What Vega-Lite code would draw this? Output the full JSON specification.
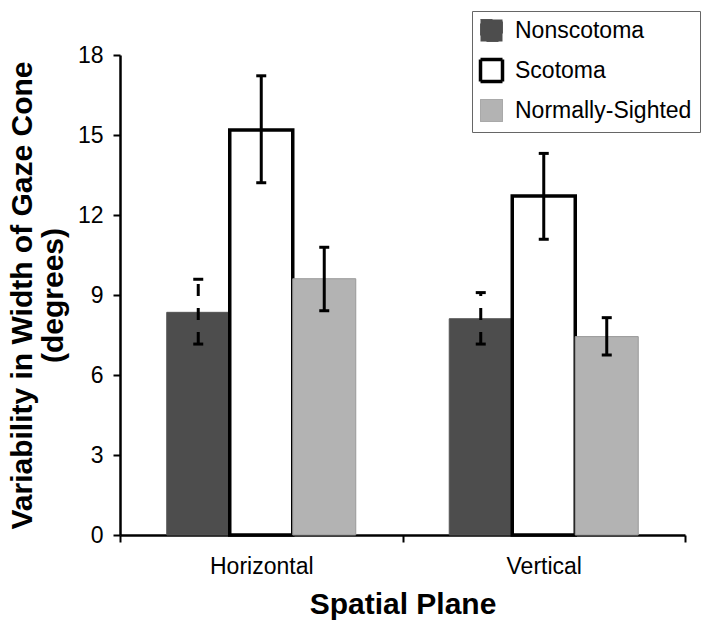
{
  "$schema": "https://vega.github.io/schema/vega-lite/v6.json",
  "width": 565,
  "height": 480,
  "autosize": {"type": "none"},
  "padding": {"left": 120, "top": 55, "right": 25, "bottom": 96},
  "background": "white",
  "config": {
    "font": "Liberation Sans",
    "view": {"stroke": null},
    "axis": {"grid": false}
  },
  "data": {
    "values": [
      {"plane": "Horizontal", "group": "Nonscotoma", "mean": 8.35, "lo": 7.16, "hi": 9.59},
      {"plane": "Horizontal", "group": "Scotoma", "mean": 15.19, "lo": 13.21, "hi": 17.22},
      {"plane": "Horizontal", "group": "Normally-Sighted", "mean": 9.61, "lo": 8.41, "hi": 10.79},
      {"plane": "Vertical", "group": "Nonscotoma", "mean": 8.11, "lo": 7.16, "hi": 9.09},
      {"plane": "Vertical", "group": "Scotoma", "mean": 12.71, "lo": 11.09, "hi": 14.31},
      {"plane": "Vertical", "group": "Normally-Sighted", "mean": 7.44, "lo": 6.75, "hi": 8.15}
    ]
  },
  "encoding": {
    "x": {
      "field": "plane",
      "type": "nominal",
      "scale": {"paddingInner": 0, "paddingOuter": 0},
      "axis": {
        "title": "Spatial Plane",
        "titleFontSize": 30,
        "titleFontWeight": "bold",
        "titleColor": "black",
        "titleY": 78,
        "titleBaseline": "alphabetic",
        "labelAngle": 0,
        "labelFontSize": 23,
        "labelColor": "black",
        "labelPadding": 13,
        "tickBand": "extent",
        "tickSize": 7,
        "tickWidth": 2,
        "tickColor": "black",
        "domainColor": "black",
        "domainWidth": 2.5
      }
    },
    "xOffset": {
      "field": "group",
      "type": "nominal",
      "sort": ["Nonscotoma", "Scotoma", "Normally-Sighted"],
      "scale": {"paddingInner": 0, "paddingOuter": 0.742}
    }
  },
  "layer": [
    {
      "mark": {"type": "bar"},
      "encoding": {
        "y": {
          "field": "mean",
          "type": "quantitative",
          "scale": {"domain": [0, 18], "nice": false},
          "axis": {
            "values": [0, 3, 6, 9, 12, 15, 18],
            "title": ["Variability in Width of Gaze Cone", "(degrees)"],
            "titleFontSize": 30,
            "titleFontWeight": "bold",
            "titleColor": "black",
            "titleX": -113,
            "titleY": 240,
            "titleBaseline": "top",
            "titleAlign": "center",
            "titleLineHeight": 31,
            "labelFontSize": 23,
            "labelColor": "black",
            "labelPadding": 10,
            "tickSize": 7,
            "tickWidth": 2,
            "tickColor": "black",
            "domainColor": "black",
            "domainWidth": 2.5
          }
        },
        "fill": {
          "field": "group",
          "type": "nominal",
          "scale": {
            "domain": ["Nonscotoma", "Scotoma", "Normally-Sighted"],
            "range": ["#4d4d4d", "#ffffff", "#b3b3b3"]
          },
          "legend": {
            "title": null,
            "orient": "none",
            "legendX": 352,
            "legendY": -44,
            "padding": 8,
            "strokeColor": "#666666",
            "fillColor": "white",
            "symbolType": "square",
            "symbolSize": 484,
            "symbolOpacity": 1,
            "labelFontSize": 23,
            "labelColor": "black",
            "labelOffset": 12,
            "rowPadding": 8,
            "labelLimit": 300,
            "encode": {
              "symbols": {
                "update": {
                  "stroke": {"signal": "datum.value === 'Scotoma' ? 'black' : datum.value === 'Nonscotoma' ? '#555555' : '#999999'"},
                  "strokeWidth": {"signal": "datum.value === 'Scotoma' ? 3.5 : 1"}
                }
              }
            }
          }
        },
        "stroke": {
          "field": "group",
          "type": "nominal",
          "scale": {
            "domain": ["Nonscotoma", "Scotoma", "Normally-Sighted"],
            "range": ["#555555", "#000000", "#999999"]
          },
          "legend": null
        },
        "strokeWidth": {
          "condition": {"test": "datum.group === 'Scotoma'", "value": 3.5},
          "value": 1
        }
      }
    },
    {
      "mark": {"type": "rule", "color": "black", "strokeWidth": 3},
      "encoding": {
        "y": {"field": "lo", "type": "quantitative"},
        "y2": {"field": "hi"},
        "strokeDash": {
          "field": "group",
          "type": "nominal",
          "scale": {
            "domain": ["Nonscotoma", "Scotoma", "Normally-Sighted"],
            "range": [[12, 12], [1, 0], [1, 0]]
          },
          "legend": null
        }
      }
    },
    {
      "mark": {"type": "tick", "color": "black", "thickness": 3, "size": 10, "opacity": 1},
      "encoding": {
        "y": {"field": "lo", "type": "quantitative"}
      }
    },
    {
      "mark": {"type": "tick", "color": "black", "thickness": 3, "size": 10, "opacity": 1},
      "encoding": {
        "y": {"field": "hi", "type": "quantitative"}
      }
    }
  ]
}
